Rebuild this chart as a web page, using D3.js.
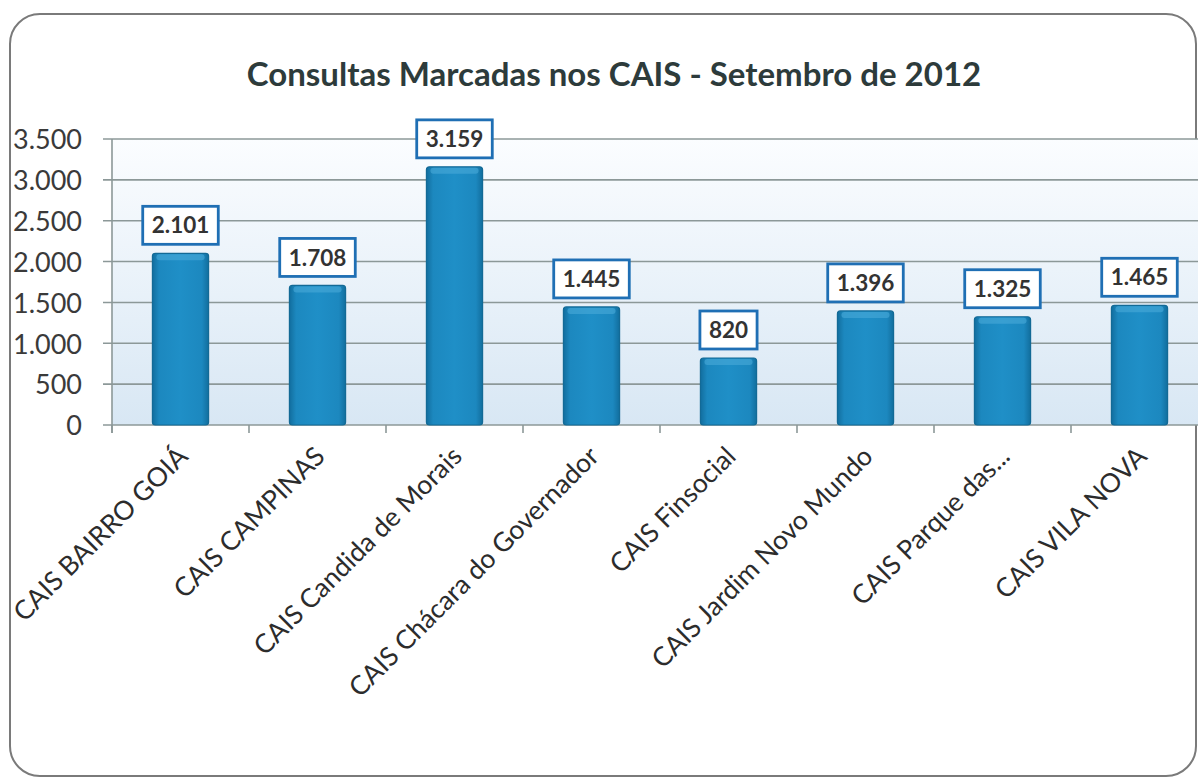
<!DOCTYPE html>
<html><head><meta charset="utf-8">
<script src="https://cdn.jsdelivr.net/npm/d3@7"></script>
<style>body{margin:0;background:#fff}svg{display:block}</style>
</head><body>
<svg id="c" width="1198" height="778"></svg>
<script>
const title = "Consultas Marcadas nos CAIS - Setembro de 2012";
const categories = ["CAIS BAIRRO GOIÁ","CAIS CAMPINAS","CAIS Candida de Morais","CAIS Chácara do Governador","CAIS Finsocial","CAIS Jardim Novo Mundo","CAIS Parque das...","CAIS VILA NOVA"];
const values = [2101,1708,3159,1445,820,1396,1325,1465];
const yTicks = [0,500,1000,1500,2000,2500,3000,3500];
const fmt = v => d3.format(",")(v).replace(/,/g,".");

const svg = d3.select("#c");
const font = "Lato, 'Open Sans', sans-serif";
const defs = svg.append("defs");
const bg = defs.append("linearGradient").attr("id","bg").attr("x1",0).attr("y1",0).attr("x2",0).attr("y2",1);
bg.append("stop").attr("offset","0%").attr("stop-color","#fbfdff");
bg.append("stop").attr("offset","100%").attr("stop-color","#d8e7f4");
const bar = defs.append("linearGradient").attr("id","bar").attr("x1",0).attr("y1",0).attr("x2",1).attr("y2",0);
bar.append("stop").attr("offset","0%").attr("stop-color","#126e9e");
bar.append("stop").attr("offset","12%").attr("stop-color","#1c88bf");
bar.append("stop").attr("offset","50%").attr("stop-color","#1f8fc7");
bar.append("stop").attr("offset","88%").attr("stop-color","#1c88bf");
bar.append("stop").attr("offset","100%").attr("stop-color","#126e9e");

// frame
svg.append("rect").attr("x",10).attr("y",14).attr("width",1186).attr("height",762)
  .attr("rx",30).attr("fill","#fff").attr("stroke","#7a7a7a").attr("stroke-width",2);

const x = d3.scaleBand().domain(categories).range([112,1208]).paddingInner(0.59).paddingOuter(0.295);
const y = d3.scaleLinear().domain([0,3500]).range([425,139]);

// plot background
svg.append("rect").attr("x",112).attr("y",y(3500)).attr("width",1100).attr("height",y(0)-y(3500)).attr("fill","url(#bg)");

// gridlines
svg.append("g").selectAll("line").data(yTicks).join("line")
  .attr("x1",103).attr("x2",1198).attr("y1",d=>y(d)).attr("y2",d=>y(d))
  .attr("stroke","#8c9898").attr("stroke-width",1.6);

// y axis
const ya = svg.append("g").attr("transform","translate(112,0)")
  .call(d3.axisLeft(y).tickValues(yTicks).tickFormat(fmt).tickSize(0).tickPadding(30));
ya.select(".domain").remove();
ya.selectAll("text").attr("font-family",font).attr("font-size",27).attr("fill","#3a3a3a").attr("dy","0.36em");
svg.append("line").attr("x1",112).attr("x2",112).attr("y1",y(3500)).attr("y2",y(0)+8).attr("stroke","#8c9898").attr("stroke-width",1.6);

// category ticks
const step = x.step();
svg.append("g").selectAll("line").data(categories).join("line")
  .attr("x1",d=>x(d)-x.paddingInner()*step/2).attr("x2",d=>x(d)-x.paddingInner()*step/2)
  .attr("y1",y(0)).attr("y2",y(0)+8).attr("stroke","#8c9898").attr("stroke-width",1.6);

// bars
svg.append("g").selectAll("rect").data(values).join("rect")
  .attr("x",(d,i)=>x(categories[i])).attr("width",x.bandwidth())
  .attr("y",d=>y(d)).attr("height",d=>y(0)-y(d))
  .attr("rx",3).attr("fill","url(#bar)").attr("stroke","#136a96").attr("stroke-width",1.2);
svg.append("g").selectAll("rect").data(values).join("rect")
  .attr("x",(d,i)=>x(categories[i])+4).attr("width",x.bandwidth()-8)
  .attr("y",d=>y(d)+1).attr("height",6).attr("rx",3)
  .attr("fill","#4aaad8").attr("opacity",0.6);

// data labels
const lab = svg.append("g").selectAll("g").data(values).join("g")
  .attr("transform",(d,i)=>`translate(${x(categories[i])+x.bandwidth()/2},${y(d)-28})`);
lab.append("text").text(d=>fmt(d)).attr("text-anchor","middle").attr("dy","0.36em")
  .attr("font-family",font).attr("font-weight","bold").attr("font-size",22.5).attr("fill","#333");
lab.each(function(){
  const g = d3.select(this); const w = g.select("text").node().getComputedTextLength();
  g.insert("rect","text").attr("x",-w/2-9).attr("y",-19).attr("width",w+18).attr("height",38)
   .attr("fill","#fff").attr("stroke","#1f6fb4").attr("stroke-width",2.8);
});

// category labels
svg.append("g").selectAll("text").data(categories).join("text")
  .attr("transform",d=>`translate(${x(d)+x.bandwidth()/2+9},${y(0)+33}) rotate(-45)`)
  .attr("text-anchor","end").attr("font-family",font).attr("font-size",26.5).attr("fill","#2c2c2c")
  .text(d=>d);

// title
svg.append("text").attr("x",614).attr("y",86).attr("text-anchor","middle")
  .attr("font-family",font).attr("font-weight","bold").attr("font-size",33).attr("fill","#2d3b3b").text(title);
</script>
</body></html>
